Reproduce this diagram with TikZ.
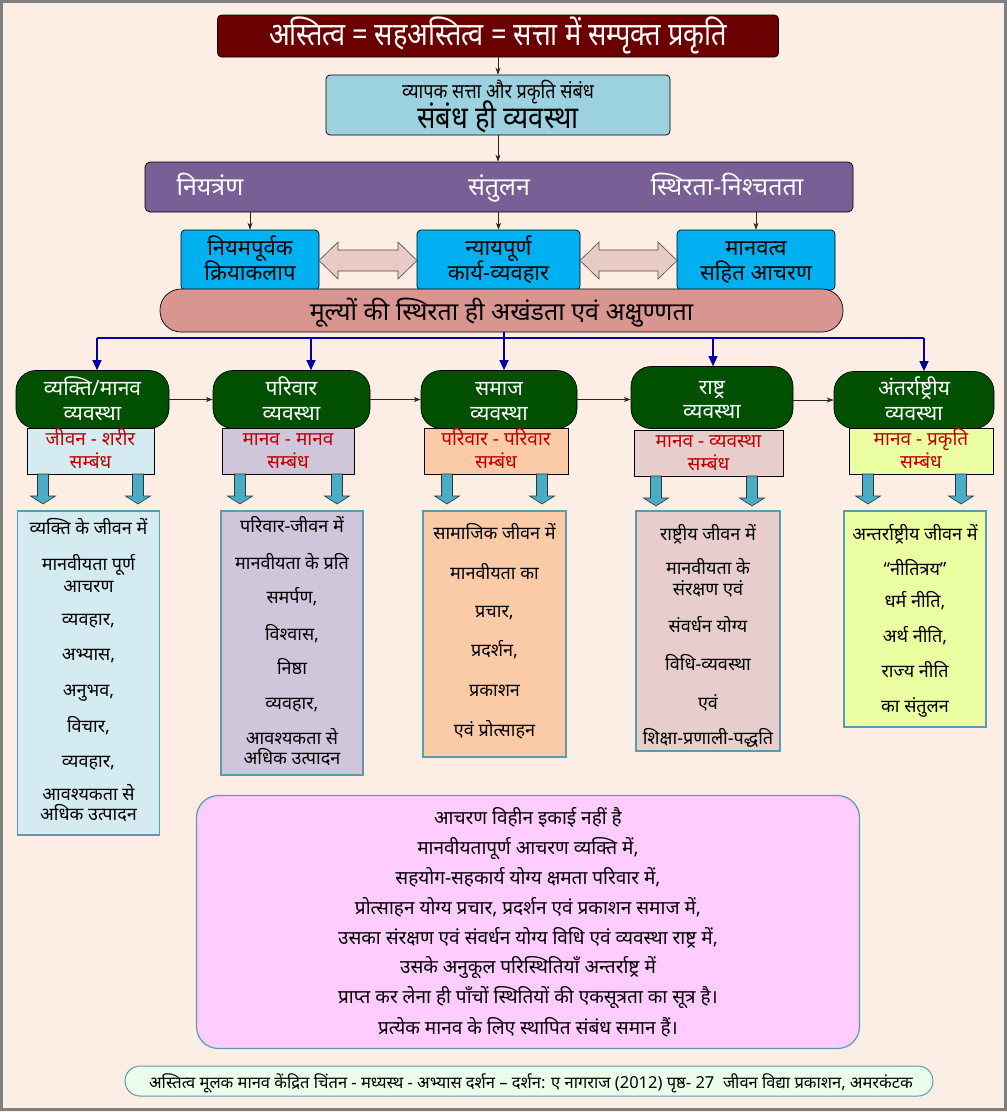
\documentclass[tikz,border=0pt]{standalone}
\usepackage{fontspec}
\setmainfont{Noto Sans}[Script=Devanagari]
\newfontfamily\condA{Noto Sans}[Script=Devanagari,FakeStretch=0.85]
\newfontfamily\condB{Noto Sans}[Script=Devanagari,FakeStretch=0.88]
\usetikzlibrary{arrows.meta,calc}
\definecolor{bgc}{HTML}{FCEEE4}
\definecolor{framec}{HTML}{7F7F7F}
\definecolor{titlec}{HTML}{6A0000}
\definecolor{boxtwo}{HTML}{9CD2DF}
\definecolor{purp}{HTML}{7A5F97}
\definecolor{cyanb}{HTML}{00B0F0}
\definecolor{darrf}{HTML}{E8CBC6}
\definecolor{pinkbar}{HTML}{D9958F}
\definecolor{navy}{HTML}{0000A0}
\definecolor{greenb}{HTML}{005000}
\definecolor{relred}{HTML}{C00000}
\definecolor{rone}{HTML}{D3EBF1}
\definecolor{rtwo}{HTML}{CFC6DC}
\definecolor{rthree}{HTML}{FBCAA6}
\definecolor{rfour}{HTML}{E8CDCD}
\definecolor{rfive}{HTML}{EBFEA2}
\definecolor{barrf}{HTML}{4BACC6}
\definecolor{tealb}{HTML}{5B9BB0}
\definecolor{pinkbox}{HTML}{FFCCFF}
\definecolor{footf}{HTML}{EBFDEB}
\newcommand\fs[1]{\fontsize{#1}{#1}\selectfont}
\begin{document}
\begin{tikzpicture}[x=1pt,y=-1pt,
  ln/.style={inner sep=0pt, text height=0.55em, text depth=0pt},
  box/.style={draw=black, line width=0.7pt, inner sep=0pt},
  arr/.style={-{Stealth[length=7pt,width=5pt]}, line width=0.6pt, draw=black!85},
  navyarr/.style={-{Triangle[length=10pt,width=9pt]}, line width=1.3pt, draw=navy},
  navyline/.style={line width=1.3pt, draw=navy},
  darr/.style={fill=darrf, draw=black!70, line width=0.6pt},
  greenbox/.style={box, fill=greenb, rounded corners=20pt},
  relbox/.style={box, line width=0.8pt},
  contbox/.style={draw=tealb, line width=1.2pt, inner sep=0pt},
  titletext/.style={ln, text=white, font=\condA\fs{32}, yshift=-8pt},
  smalltop/.style={ln, font=\condB\fs{20.5}, yshift=-5.5pt},
  bigtop/.style={ln, font=\condB\fs{31}, yshift=-8pt},
  purptext/.style={ln, text=white, font=\fs{25}, yshift=-7pt},
  bluetext/.style={ln, font=\fs{22}, yshift=-6pt},
  bartext/.style={ln, font=\fs{25}, yshift=-7pt},
  greentext/.style={ln, text=white, font=\fs{21}, yshift=-6pt},
  reltext/.style={ln, text=relred, font=\fs{19}, yshift=-5pt},
  cont/.style={ln, font=\fs{18}, yshift=-5pt},
  pinktext/.style={ln, font=\fs{19}, yshift=-5pt},
  foottext/.style={ln, font=\fs{16.5}, yshift=-4.5pt},
  dnarr/.pic={\draw[fill=barrf, draw=black!80, line width=0.6pt] (-5.5,0) -- (-5.5,22) -- (-12.5,22) -- (0,30) -- (12.5,22) -- (5.5,22) -- (5.5,0) -- cycle;}
]
\fill[bgc] (0,0) rectangle (1007,1112);
\useasboundingbox (0,0) rectangle (1007,1112);
\draw[framec, line width=3pt] (1.5,1.5) rectangle (1005.5,1109.5);

% title
\node[box, fill=titlec, rounded corners=4pt, minimum width=561pt, minimum height=42pt] (t) at (498,36) {};
\node[titletext] (tt) at (498,35) {अस्तित्व = सहअस्तित्व = सत्ता में सम्पृक्त प्रकृति};

% box 2
\node[box, fill=boxtwo, rounded corners=4pt, minimum width=344pt, minimum height=60pt] (b2) at (498,105) {};
\node[smalltop] (b2a) at (498,90) {व्यापक सत्ता और प्रकृति संबंध};
\node[bigtop] (b2b) at (498,118) {संबंध ही व्यवस्था};
\draw[arr] (t.south) -- (b2.north);

% purple bar
\node[box, fill=purp, rounded corners=5pt, minimum width=708pt, minimum height=50pt] (p) at (499,187) {};
\node[purptext] (p1) at (210,186) {नियत्रंण};
\node[purptext] (p2) at (499,186) {संतुलन};
\node[purptext] (p3) at (727,186) {स्थिरता-निश्चतता};
\draw[arr] (b2.south) -- (b2.south |- p.north);

% blue boxes
\node[box, fill=cyanb, rounded corners=4pt, minimum width=138pt, minimum height=60pt] (A) at (250,260) {};
\node[box, fill=cyanb, rounded corners=4pt, minimum width=163pt, minimum height=60pt] (B) at (498.5,260) {};
\node[box, fill=cyanb, rounded corners=4pt, minimum width=158pt, minimum height=60pt] (C) at (756,260) {};
\node[bluetext] (A1) at (250,247) {नियमपूर्वक};
\node[bluetext] (A2) at (250,272) {क्रियाकलाप};
\node[bluetext] (B1) at (498.5,247) {न्यायपूर्ण};
\node[bluetext] (B2) at (498.5,272) {कार्य-व्यवहार};
\node[bluetext] (C1t) at (756,247) {मानवत्व};
\node[bluetext] (C2t) at (756,272) {सहित आचरण};
\draw[arr] (A.north |- p.south) -- (A.north);
\draw[arr] (B.north |- p.south) -- (B.north);
\draw[arr] (C.north |- p.south) -- (C.north);

% double arrows
\draw[darr] (319,260.5) -- (338,242) -- (338,250) -- (398,250) -- (398,242) -- (417,260.5) -- (398,279) -- (398,271) -- (338,271) -- (338,279) -- cycle;
\draw[darr] (580,260.5) -- (599,242) -- (599,250) -- (658,250) -- (658,242) -- (677,260.5) -- (658,279) -- (658,271) -- (599,271) -- (599,279) -- cycle;

% pink bar
\node[box, fill=pinkbar, rounded corners=21pt, minimum width=683pt, minimum height=43pt] (m) at (501.5,310.5) {};
\node[bartext] (mt) at (501.5,311) {मूल्यों की स्थिरता ही अखंडता एवं अक्षुण्णता};

% green boxes
\node[greenbox, minimum width=153pt, minimum height=58pt] (g1) at (92.5,399.5) {};
\node[greenbox, minimum width=157pt, minimum height=58pt] (g2) at (291.5,399.5) {};
\node[greenbox, minimum width=156pt, minimum height=58pt] (g3) at (499,399.5) {};
\node[greenbox, minimum width=162pt, minimum height=62pt] (g4) at (712,397.5) {};
\node[greenbox, minimum width=160pt, minimum height=57pt] (g5) at (914,400) {};
\node[greentext] (g1a) at (92.5,387) {व्यक्ति/मानव};
\node[greentext] (g1b) at (92.5,412) {व्यवस्था};
\node[greentext] (g2a) at (291.5,387) {परिवार};
\node[greentext] (g2b) at (291.5,412) {व्यवस्था};
\node[greentext] (g3a) at (499,387) {समाज};
\node[greentext] (g3b) at (499,412) {व्यवस्था};
\node[greentext] (g4a) at (712,386) {राष्ट्र};
\node[greentext] (g4b) at (712,410) {व्यवस्था};
\node[greentext] (g5a) at (914,387) {अंतर्राष्ट्रीय};
\node[greentext] (g5b) at (914,412) {व्यवस्था};
\draw[arr] (g1.east) -- (g1.east -| g2.west);
\draw[arr] (g2.east) -- (g2.east -| g3.west);
\draw[arr] (g3.east) -- (g3.east -| g4.west);
\draw[arr] (g4.east |- g5.west) -- (g5.west);

% navy distribution
\coordinate (h0) at (504,338);
\coordinate (d1) at (97,338);
\coordinate (d2) at (311,338);
\coordinate (d3) at (504,338);
\coordinate (d4) at (713,338);
\coordinate (d5) at (924,338);
\draw[navyline] (m.south -| h0) -- (h0);
\draw[navyline] (d1) -- (d5);
\draw[navyarr] (d1) -- (d1 |- g1.north);
\draw[navyarr] (d2) -- (d2 |- g2.north);
\draw[navyarr] (d3) -- (d3 |- g3.north);
\draw[navyarr] (d4) -- (d4 |- g4.north);
\draw[navyarr] (d5) -- (d5 |- g5.north);

% relation boxes
\node[relbox, fill=rone, minimum width=127pt, minimum height=46pt] (r1) at (90.5,451) {};
\node[relbox, fill=rtwo, minimum width=132pt, minimum height=46pt] (r2) at (288,451) {};
\node[relbox, fill=rthree, minimum width=144pt, minimum height=46pt] (r3) at (496,451) {};
\node[relbox, fill=rfour, minimum width=149pt, minimum height=46pt] (r4) at (708.5,453) {};
\node[relbox, fill=rfive, minimum width=144pt, minimum height=46pt] (r5) at (921,451) {};
\node[reltext] (r1a) at (90.5,438) {जीवन - शरीर};
\node[reltext] (r1b) at (90.5,461) {सम्बंध};
\node[reltext] (r2a) at (288,438) {मानव - मानव};
\node[reltext] (r2b) at (288,461) {सम्बंध};
\node[reltext] (r3a) at (496,438) {परिवार - परिवार};
\node[reltext] (r3b) at (496,461) {सम्बंध};
\node[reltext] (r4a) at (708.5,440) {मानव - व्यवस्था};
\node[reltext] (r4b) at (708.5,463) {सम्बंध};
\node[reltext] (r5a) at (921,438) {मानव - प्रकृति};
\node[reltext] (r5b) at (921,461) {सम्बंध};

% block arrows
\foreach \xx in {43,138,240,337,447,542,868,961} \pic at (\xx,474) {dnarr};
\foreach \xx in {656,752} \pic at (\xx,476) {dnarr};

% content boxes
\node[contbox, fill=rone, minimum width=142pt, minimum height=324pt] (c1) at (88.5,673) {};
\node[contbox, fill=rtwo, minimum width=142pt, minimum height=264pt] (c2) at (292,643) {};
\node[contbox, fill=rthree, minimum width=143pt, minimum height=246pt] (c3) at (494.5,634) {};
\node[contbox, fill=rfour, minimum width=144pt, minimum height=240pt] (c4) at (708,631) {};
\node[contbox, fill=rfive, minimum width=142pt, minimum height=216pt] (c5) at (915,619) {};

\node[cont] (c1l1) at (88.5,527) {व्यक्ति के जीवन में};
\node[cont] (c1l2) at (88.5,563) {मानवीयता पूर्ण};
\node[cont] (c1l3) at (88.5,585) {आचरण};
\node[cont] (c1l4) at (88.5,618) {व्यवहार,};
\node[cont] (c1l5) at (88.5,653) {अभ्यास,};
\node[cont] (c1l6) at (88.5,689) {अनुभव,};
\node[cont] (c1l7) at (88.5,725) {विचार,};
\node[cont] (c1l8) at (88.5,760) {व्यवहार,};
\node[cont] (c1l9) at (88.5,793) {आवश्यकता से};
\node[cont] (c1l10) at (88.5,813) {अधिक उत्पादन};

\node[cont] (c2l1) at (292,525) {परिवार-जीवन में};
\node[cont] (c2l2) at (292,562) {मानवीयता के प्रति};
\node[cont] (c2l3) at (292,596) {समर्पण,};
\node[cont] (c2l4) at (292,633) {विश्वास,};
\node[cont] (c2l5) at (292,667) {निष्ठा};
\node[cont] (c2l6) at (292,702) {व्यवहार,};
\node[cont] (c2l7) at (292,737) {आवश्यकता से};
\node[cont] (c2l8) at (292,757) {अधिक उत्पादन};

\node[cont] (c3l1) at (494.5,532) {सामाजिक जीवन में};
\node[cont] (c3l2) at (494.5,572) {मानवीयता का};
\node[cont] (c3l3) at (494.5,610) {प्रचार,};
\node[cont] (c3l4) at (494.5,649) {प्रदर्शन,};
\node[cont] (c3l5) at (494.5,689) {प्रकाशन};
\node[cont] (c3l6) at (494.5,729) {एवं प्रोत्साहन};

\node[cont] (c4l1) at (708,533) {राष्ट्रीय जीवन में};
\node[cont] (c4l2) at (708,567) {मानवीयता के};
\node[cont] (c4l3) at (708,588) {संरक्षण एवं};
\node[cont] (c4l4) at (708,625) {संवर्धन योग्य};
\node[cont] (c4l5) at (708,663) {विधि-व्यवस्था};
\node[cont] (c4l6) at (708,702) {एवं};
\node[cont] (c4l7) at (708,737) {शिक्षा-प्रणाली-पद्धति};

\node[cont] (c5l1) at (915,533) {अन्तर्राष्ट्रीय जीवन में};
\node[cont] (c5l2) at (915,568) {“नीतित्रय”};
\node[cont] (c5l3) at (915,600) {धर्म नीति,};
\node[cont] (c5l4) at (915,635) {अर्थ नीति,};
\node[cont] (c5l5) at (915,670) {राज्य नीति};
\node[cont] (c5l6) at (915,705) {का संतुलन};

% pink box
\node[draw=tealb, fill=pinkbox, line width=1.2pt, rounded corners=22pt, minimum width=663pt, minimum height=253pt] (pk) at (528,922) {};
\node[pinktext] (pk1) at (528,817) {आचरण विहीन इकाई नहीं है};
\node[pinktext] (pk2) at (528,847) {मानवीयतापूर्ण आचरण व्यक्ति में,};
\node[pinktext] (pk3) at (528,877) {सहयोग-सहकार्य योग्य क्षमता परिवार में,};
\node[pinktext] (pk4) at (528,907) {प्रोत्साहन योग्य प्रचार, प्रदर्शन एवं प्रकाशन समाज में,};
\node[pinktext] (pk5) at (528,937) {उसका संरक्षण एवं संवर्धन योग्य विधि एवं व्यवस्था राष्ट्र में,};
\node[pinktext] (pk6) at (528,966) {उसके अनुकूल परिस्थितियाँ अन्तर्राष्ट्र में};
\node[pinktext] (pk7) at (528,996) {प्राप्त कर लेना ही पाँचों स्थितियों की एकसूत्रता का सूत्र है।};
\node[pinktext] (pk8) at (528,1027) {प्रत्येक मानव के लिए स्थापित संबंध समान हैं।};

% footer
\node[draw=tealb, fill=footf, line width=1pt, rounded corners=15pt, minimum width=808pt, minimum height=30pt] (f) at (529,1081) {};
\node[foottext] (ft) at (531,1081) {अस्तित्व मूलक मानव केंद्रित चिंतन - मध्यस्थ - अभ्यास दर्शन – दर्शन: ए नागराज (2012) पृष्ठ- 27\ \ जीवन विद्या प्रकाशन, अमरकंटक};
\end{tikzpicture}
\end{document}
